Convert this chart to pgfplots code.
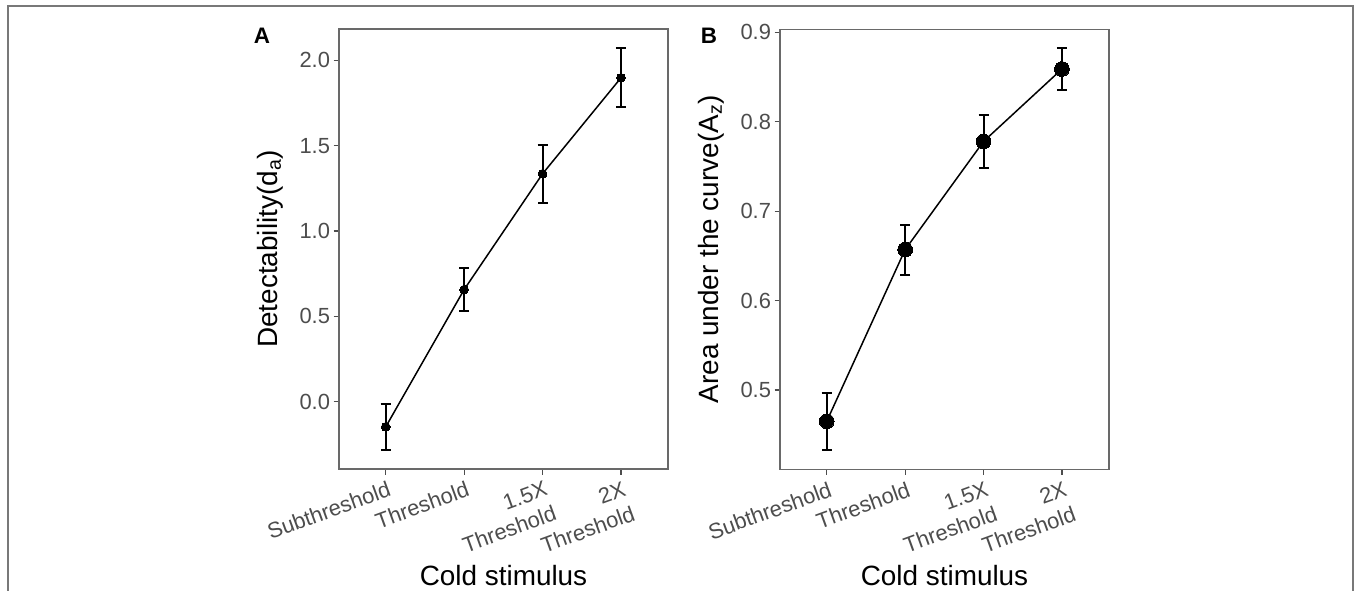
\documentclass[border=0pt]{standalone}
\usepackage{fontspec}
\setmainfont{Liberation Sans}
\usepackage{pgfplots}
\usepackage{pgfplotstable}
\pgfplotsset{compat=1.18}
\definecolor{tickgray}{RGB}{77,77,77}
\definecolor{framegray}{RGB}{105,105,105}
\definecolor{outergray}{RGB}{120,120,120}

\pgfplotstableread{
x y e
1 -0.147 0.133
2 0.657 0.126
3 1.335 0.169
4 1.897 0.173
}\dataA
\pgfplotstableread{
x y e
1 0.465 0.032
2 0.657 0.028
3 0.778 0.030
4 0.859 0.023
}\dataB

\pgfplotsset{
  panel/.style={
    scale only axis, width=329bp, height=440bp,
    xmin=0.404, xmax=4.6,
    xtick={1,2,3,4},
    xticklabels={Subthreshold, Threshold, {1.5X\\Threshold}, {2X\\Threshold}},
    tick align=outside, xtick pos=bottom, ytick pos=left,
    major tick length=5.5bp,
    axis line style={framegray, line width=1.2bp},
    tick style={tickgray, line width=1.2bp},
    tick label style={color=tickgray, font=\fontsize{22}{26.5}\selectfont},
    xticklabel style={rotate=20, anchor=north east, align=right, inner sep=1bp, yshift=-5bp},
    yticklabel style={/pgf/number format/fixed, /pgf/number format/fixed zerofill, /pgf/number format/precision=1},
    /pgf/number format/assume math mode=true,
    label style={font=\fontsize{28}{32}\selectfont, color=black},
    xlabel={Cold stimulus},
    xlabel style={at={(axis description cs:0.5,-0.264)}, anchor=base},
    ylabel style={at={(axis description cs:-0.21,0.5)}, anchor=center},
    clip=false,
  }
}

\begin{document}
\begin{tikzpicture}
\path[use as bounding box] (0,0) rectangle (1354bp,-591bp);
\draw[outergray, line width=1.5bp] (8bp,-591bp) -- (8bp,-6bp) -- (1353bp,-6bp) -- (1353bp,-591bp);

\begin{axis}[panel, at={(339bp,-469bp)}, anchor=south west,
  ymin=-0.394, ymax=2.183, ytick={0,0.5,1,1.5,2},
  ylabel={Detectability(d\textsubscript{a})}]
\addplot[black, line width=1.5bp, mark=*, mark size=4.4bp, mark options={solid, line width=0pt},
  error bars/.cd, y dir=both, y explicit,
  error bar style={line width=2bp},
  error mark options={rotate=90, mark size=5bp, line width=2bp}]
  table[x=x, y=y, y error=e] {\dataA};
\end{axis}

\begin{axis}[panel, at={(780bp,-469.3bp)}, anchor=south west,
  ymin=0.4113, ymax=0.9034, ytick={0.5,0.6,0.7,0.8,0.9},
  ylabel={Area under the curve(A\textsubscript{z})}]
\addplot[black, line width=1.5bp, mark=*, mark size=7.4bp, mark options={solid, line width=0pt},
  error bars/.cd, y dir=both, y explicit,
  error bar style={line width=2bp},
  error mark options={rotate=90, mark size=5bp, line width=2bp}]
  table[x=x, y=y, y error=e] {\dataB};
\end{axis}

\node[font=\bfseries\fontsize{22.5}{26}\selectfont] at (262bp,-36bp) {A};
\node[font=\bfseries\fontsize{22.5}{26}\selectfont] at (709bp,-36bp) {B};
\end{tikzpicture}
\end{document}
